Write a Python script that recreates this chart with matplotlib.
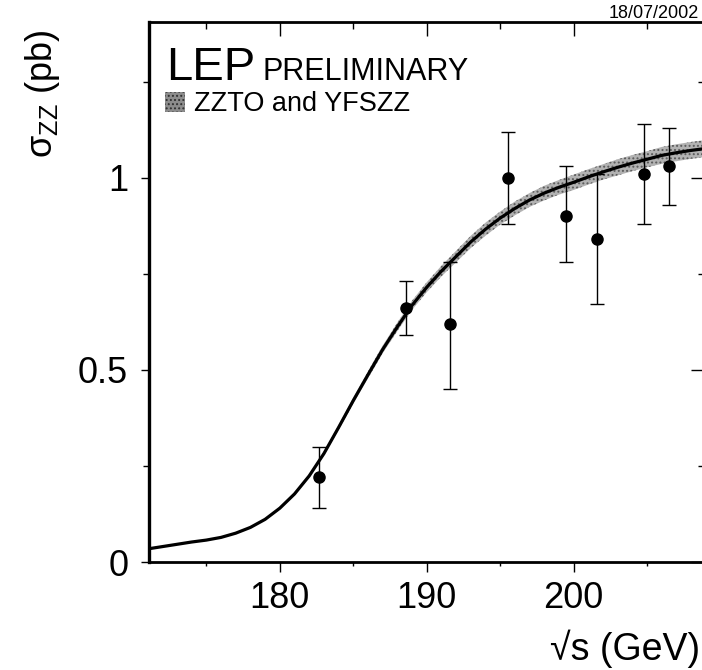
import matplotlib
matplotlib.use("Agg")
import matplotlib.pyplot as plt
from matplotlib.patches import Patch

plt.rcParams["font.family"] = ["Liberation Sans", "DejaVu Sans"]
plt.rcParams["mathtext.default"] = "regular"
plt.rcParams["hatch.linewidth"] = 0.9

# measured ZZ cross sections (LEP combination)
sqrt_s = [182.7, 188.6, 191.6, 195.5, 199.5, 201.6, 204.8, 206.5]
sigma = [0.22, 0.66, 0.62, 1.00, 0.90, 0.84, 1.01, 1.03]
err_up = [0.08, 0.07, 0.16, 0.12, 0.13, 0.17, 0.13, 0.10]
err_down = [0.08, 0.07, 0.17, 0.12, 0.12, 0.17, 0.13, 0.10]

# theory prediction (ZZTO / YFSZZ) and its band half-width
theory_e = [171, 172, 173, 174, 175, 176, 177, 178, 179, 180,
            181, 182, 183, 184, 185, 186, 187, 188, 189, 190,
            191, 192, 193, 194, 195, 196, 197, 198, 199, 200,
            201, 202, 203, 204, 205, 206, 207, 208, 209]
theory_sigma = [0.034, 0.040, 0.046, 0.052, 0.057, 0.064, 0.075, 0.090, 0.111, 0.140,
                0.177, 0.224, 0.282, 0.350, 0.420, 0.487, 0.553, 0.612, 0.668, 0.715,
                0.757, 0.795, 0.833, 0.866, 0.895, 0.920, 0.942, 0.960, 0.975, 0.988,
                1.002, 1.015, 1.027, 1.038, 1.048, 1.058, 1.065, 1.071, 1.076]
band_half = [0.001, 0.001, 0.001, 0.001, 0.001, 0.001, 0.002, 0.002, 0.002, 0.003,
             0.003, 0.004, 0.005, 0.006, 0.008, 0.009, 0.010, 0.011, 0.012, 0.013,
             0.014, 0.015, 0.016, 0.017, 0.017, 0.018, 0.018, 0.019, 0.019, 0.020,
             0.020, 0.020, 0.021, 0.021, 0.021, 0.022, 0.022, 0.022, 0.022]

band_lo = [s - h for s, h in zip(theory_sigma, band_half)]
band_hi = [s + h for s, h in zip(theory_sigma, band_half)]

fig = plt.figure(figsize=(7.02, 6.70), dpi=100)
ax = fig.add_axes([149 / 702, 108 / 670, 557 / 702, 540 / 670])

band = ax.fill_between(theory_e, band_lo, band_hi, facecolor="#b2b2b2",
                       edgecolor="#5a5a5a", hatch="....", linewidth=0, zorder=2)
ax.plot(theory_e, theory_sigma, color="black", lw=2.3, zorder=3)
ax.errorbar(sqrt_s, sigma, yerr=[err_down, err_up], fmt="o", color="black",
            ms=8, elinewidth=1.0, capsize=5, capthick=1.0, zorder=4)

ax.set_xlim(171.1, 209.0)
ax.set_ylim(0, 1.405)
ax.set_xticks([180, 190, 200])
ax.set_xticks([175, 185, 195, 205], minor=True)
ax.set_yticks([0, 0.5, 1])
ax.set_yticklabels(["0", "0.5", "1"])
ax.set_yticks([0.25, 0.75, 1.25], minor=True)
ax.tick_params(which="both", direction="out", top=False, right=False,
               labelsize=26, width=1.0)
ax.tick_params(axis="x", which="major", length=7, pad=7)
ax.tick_params(axis="x", which="minor", length=3)
ax.tick_params(axis="y", which="major", length=6, pad=9)
ax.tick_params(axis="y", which="minor", length=4)
ax.spines["left"].set_linewidth(2.4)
ax.spines["bottom"].set_linewidth(2.0)
ax.spines["top"].set_linewidth(2.0)
ax.spines["right"].set_linewidth(2.0)

top = ax.secondary_xaxis("top")
top.set_xticks([180, 190, 200])
top.set_xticks([175, 185, 195, 205], minor=True)
top.tick_params(which="both", direction="in", labeltop=False, width=1.0)
top.tick_params(which="major", length=10)
top.tick_params(which="minor", length=5)
right = ax.secondary_yaxis("right")
right.set_yticks([0, 0.5, 1])
right.set_yticks([0.25, 0.75, 1.25], minor=True)
right.tick_params(which="both", direction="in", labelright=False, width=1.0)
right.tick_params(which="major", length=11)
right.tick_params(which="minor", length=6)

ax.text(0.030, 0.893, "LEP", transform=ax.transAxes, fontsize=34, va="baseline")
ax.text(0.203, 0.893, "PRELIMINARY", transform=ax.transAxes, fontsize=22,
        va="baseline")
ax.legend(handles=[Patch(facecolor="#8c8c8c", edgecolor="#2e2e2e", hatch="....",
                         lw=0)],
          labels=["ZZTO and YFSZZ"], loc="upper left",
          bbox_to_anchor=(0.028, 0.872), frameon=False, fontsize=19.5,
          handlelength=0.75, handleheight=0.75, handletextpad=0.35,
          borderpad=0, borderaxespad=0)

fig.text(702 / 702 - 0.004, 1 - 18 / 670, "18/07/2002", ha="right",
         va="baseline", fontsize=13)
fig.text(42 / 702, 1 - 94 / 670, r"$\sigma_{ZZ}$ (pb)", rotation=90,
         ha="center", va="center", fontsize=26)
fig.text(700 / 702, 1 - 660 / 670, "\u221as (GeV)", ha="right",
         va="baseline", fontsize=27)

fig.savefig("out.png", dpi=100)
